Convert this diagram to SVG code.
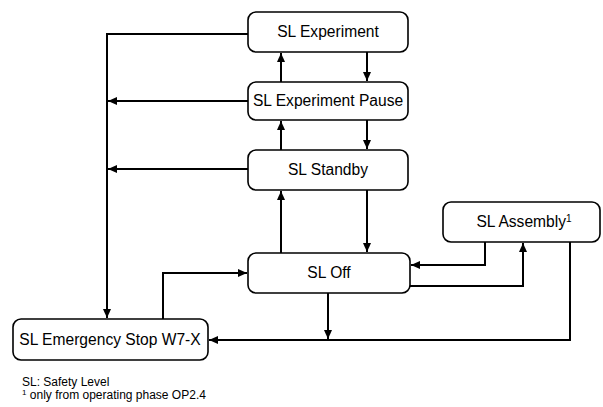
<svg xmlns="http://www.w3.org/2000/svg" width="603" height="407" viewBox="0 0 603 407">
  <defs>
    <marker id="arrow" markerUnits="userSpaceOnUse" markerWidth="10" markerHeight="8" refX="9" refY="4" orient="auto">
      <path d="M0,0 L9,4 L0,8 Z" fill="#000"/>
    </marker>
    <style>
      .box { fill: #fff; stroke: #000; stroke-width: 1.6; }
      .lbl { font-family: "Liberation Sans", Arial, sans-serif; font-size: 15.6px; fill: #000; text-anchor: middle; }
      .note { font-family: "Liberation Sans", Arial, sans-serif; font-size: 12px; fill: #000; }
      .conn { fill: none; stroke: #000; stroke-width: 2; }
      .arr { marker-end: url(#arrow); }
    </style>
  </defs>
  <rect width="603" height="407" fill="#fff"/>

  <g id="connectors">
    <!-- Experiment to Emergency Stop -->
    <path class="conn arr" d="M248,34 H107 V318"/>
    <!-- Pause and Standby to the emergency bus -->
    <path class="conn arr" d="M248,101 H108"/>
    <path class="conn arr" d="M248,169 H108"/>
    <!-- upward transitions -->
    <path class="conn arr" d="M281,82 V53"/>
    <path class="conn arr" d="M281,150 V121"/>
    <path class="conn arr" d="M281,253 V191"/>
    <!-- downward transitions -->
    <path class="conn arr" d="M367,52 V81"/>
    <path class="conn arr" d="M367,120 V149"/>
    <path class="conn arr" d="M367,190 V252"/>
    <!-- Assembly to Off -->
    <path class="conn arr" d="M485,242 V265 H411"/>
    <!-- Off to Assembly -->
    <path class="conn arr" d="M410,286 H523 V243"/>
    <!-- Assembly to Emergency Stop -->
    <path class="conn arr" d="M570,242 V340 H209"/>
    <!-- Off to Emergency Stop -->
    <path class="conn arr" d="M328,293 V339"/>
    <!-- Emergency Stop to Off -->
    <path class="conn arr" d="M163,319 V273 H247"/>
  </g>

  <g id="sl-experiment">
    <rect class="box" x="248" y="12" width="160" height="40" rx="8"/>
    <text class="lbl" x="328" y="37">SL Experiment</text>
  </g>
  <g id="sl-experiment-pause">
    <rect class="box" x="248" y="82" width="160" height="38" rx="8"/>
    <text class="lbl" x="328" y="106">SL Experiment Pause</text>
  </g>
  <g id="sl-standby">
    <rect class="box" x="248" y="150" width="160" height="40" rx="8"/>
    <text class="lbl" x="328" y="175">SL Standby</text>
  </g>
  <g id="sl-off">
    <rect class="box" x="248" y="253" width="162" height="40" rx="8"/>
    <text class="lbl" x="329" y="278">SL Off</text>
  </g>
  <g id="sl-assembly">
    <rect class="box" x="443" y="202" width="157" height="40" rx="8"/>
    <text class="lbl" x="524" y="227">SL Assembly<tspan font-size="10" dy="-5">1</tspan></text>
  </g>
  <g id="sl-emergency-stop">
    <rect class="box" x="13" y="319" width="195" height="41" rx="8"/>
    <text class="lbl" x="110" y="345">SL Emergency Stop W7-X</text>
  </g>

  <g id="legend">
    <text class="note" x="22" y="386">SL: Safety Level</text>
    <text class="note" x="22" y="399"><tspan font-size="8" dy="-4">1</tspan><tspan dy="4"> only from operating phase OP2.4</tspan></text>
  </g>
</svg>
